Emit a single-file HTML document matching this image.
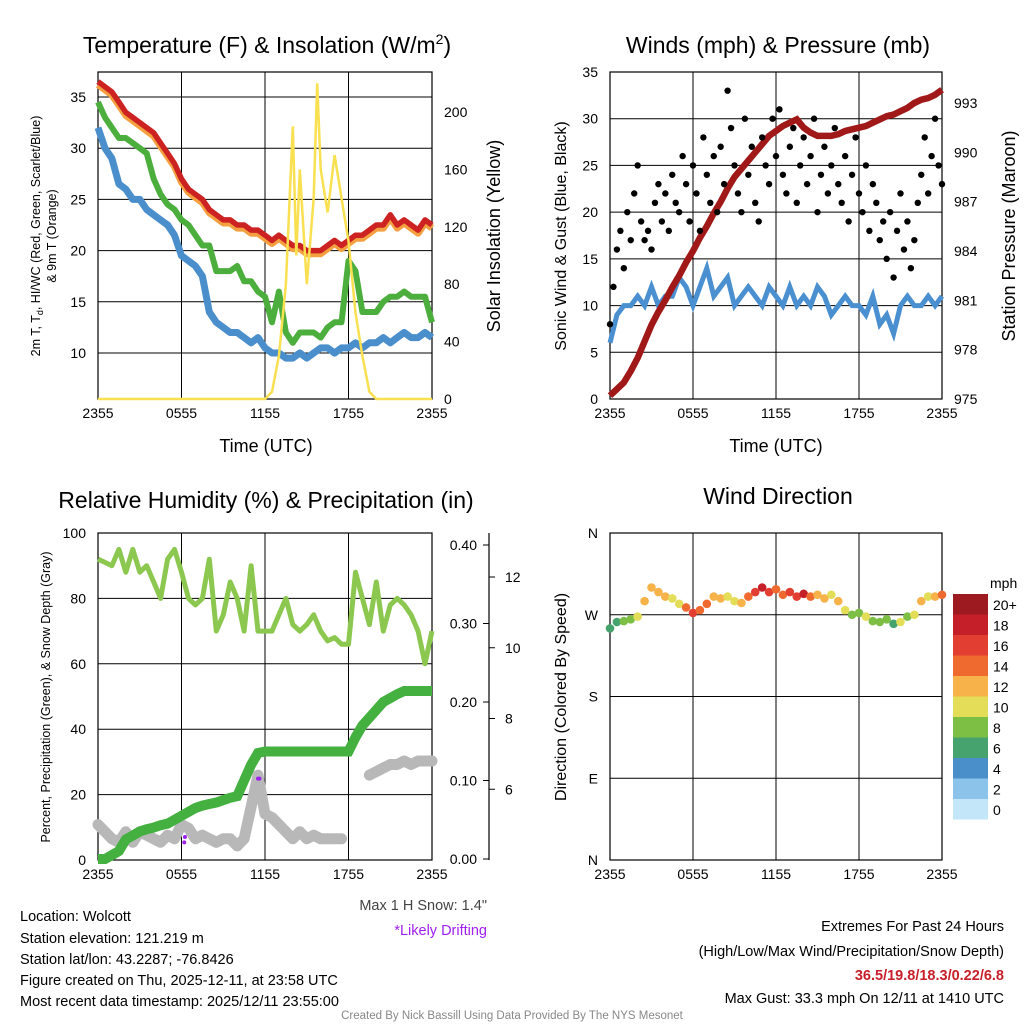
<!DOCTYPE html>
<html><head><meta charset="utf-8"><style>
body{margin:0;background:#fff;}
svg{display:block;font-family:"Liberation Sans",sans-serif;}
</style></head><body>
<svg id="chart" width="1024" height="1024" viewBox="0 0 1024 1024" xmlns="http://www.w3.org/2000/svg">
<rect width="1024" height="1024" fill="#fff"/>
<g id="p1"></g>
<g id="p2"></g>
<g id="p3"></g>
<g id="p4"></g>
<g font-size="23" text-anchor="middle" fill="#000">
<text x="267" y="53">Temperature (F) &amp; Insolation (W/m<tspan font-size="14" dy="-9">2</tspan><tspan dy="9">)</tspan></text>
<text x="778" y="53">Winds (mph) &amp; Pressure (mb)</text>
<text x="266" y="508">Relative Humidity (%) &amp; Precipitation (in)</text>
<text x="778" y="504">Wind Direction</text>
</g>
<g font-size="18" text-anchor="middle">
<text x="266" y="452">Time (UTC)</text>
<text x="776" y="452">Time (UTC)</text>
<text transform="translate(500,236) rotate(-90)">Solar Insolation (Yellow)</text>
<text transform="translate(566,236) rotate(-90)" font-size="16">Sonic Wind &amp; Gust (Blue, Black)</text>
<text transform="translate(1015,236) rotate(-90)">Station Pressure (Maroon)</text>
<text transform="translate(566,697) rotate(-90)" font-size="16">Direction (Colored By Speed)</text>
<text transform="translate(50,697) rotate(-90)" font-size="12.5">Percent, Precipitation (Green), &amp; Snow Depth (Gray)</text>
<text transform="translate(40,236) rotate(-90)" font-size="12.5">2m T, T<tspan font-size="9" dy="3">d</tspan><tspan dy="-3">, HI/WC (Red, Green, Scarlet/Blue)</tspan></text>
<text transform="translate(56,236) rotate(-90)" font-size="12.5">&amp; 9m T (Orange)</text>
</g>
<g font-size="14.5">
<text x="20" y="921">Location: Wolcott</text>
<text x="20" y="943">Station elevation: 121.219 m</text>
<text x="20" y="964">Station lat/lon: 43.2287; -76.8426</text>
<text x="20" y="985">Figure created on Thu, 2025-12-11, at 23:58 UTC</text>
<text x="20" y="1006">Most recent data timestamp: 2025/12/11 23:55:00</text>
<text x="487" y="910" text-anchor="end" fill="#444">Max 1 H Snow: 1.4"</text>
<text x="487" y="935" text-anchor="end" fill="#a020f0">*Likely Drifting</text>
<text x="1004" y="931" text-anchor="end">Extremes For Past 24 Hours</text>
<text x="1004" y="956" text-anchor="end">(High/Low/Max Wind/Precipitation/Snow Depth)</text>
<text x="1004" y="980" text-anchor="end" fill="#c8202a" font-weight="bold">36.5/19.8/18.3/0.22/6.8</text>
<text x="1004" y="1003" text-anchor="end">Max Gust: 33.3 mph On 12/11 at 1410 UTC</text>
<text x="512" y="1019" text-anchor="middle" font-size="11.5" fill="#888">Created By Nick Bassill Using Data Provided By The NYS Mesonet</text>
</g>
</svg>
<script>
const NS="http://www.w3.org/2000/svg";
const xTickLabels=["2355","0555","1155","1755","2355"];
const hours=[0,0.5,1,1.5,2,2.5,3,3.5,4,4.5,5,5.5,6,6.5,7,7.5,8,8.5,9,9.5,10,10.5,11,11.5,12,12.5,13,13.5,14,14.5,15,15.5,16,16.5,17,17.5,18,18.5,19,19.5,20,20.5,21,21.5,22,22.5,23,23.5,24];
const tempRed=[36.5,36,35.5,34.5,33.5,33,32.5,32,31.5,30.5,29.5,28.5,27,26,25.5,25,24,23.5,23,23,22.5,22.5,22,22,21.5,21,21.5,21,20.5,20.5,20,20,20,20.5,21,20.5,21,21.5,21.5,22,22.5,22.5,23.5,22.5,23,22.5,22,23,22.5];
const tempGreen=[34.5,33,32,31,31,30.5,30,29.5,27,25.5,24.5,24,23,22.5,21.5,20.5,20.5,18,18,18,18.5,17,17,16,15.5,13,16,12,11,12,12,12,11.5,12.5,13,13,19,18,14,14,14,15,15.5,15.5,16,15.5,15.5,15.5,13];
const tempBlue=[32,30,29,26.5,26,25,25,24,23.5,23,22.5,21.5,19.5,19,18.5,17.5,14,13,12.5,12,12,11.5,11,11.5,10.5,10,10,9.5,9.5,10,9.5,10,10.5,10.5,10,10.5,10.5,11,10.5,11,11,11.5,11,11.5,12,11.5,11.5,12,11.5];
const solarHours=[0,12,12.5,13,13.5,14,14.25,14.5,15,15.5,15.75,16,16.5,17,17.5,18,18.5,19,19.5,20,24];
const solarVals=[0,0,5,30,80,190,100,160,80,140,220,160,130,170,140,110,60,30,5,0,0];
const sonicWind=[6,9,10,10,11,10,12,10,11,11,13,12,10,12,14,11,12,13,10,11,12,11,10,12,11,10,12,10,11,10,12,11,9,10,11,10,10,9,11,8,9,7,10,11,10,10,11,10,11];
const pressure=[975.2,975.6,976,976.7,977.5,978.5,979.5,980.3,981,981.8,982.5,983.3,984,984.8,985.5,986.3,987,987.8,988.5,989,989.5,990,990.5,991,991.3,991.6,991.8,992,991.5,991.2,991,991,991,991.1,991.3,991.4,991.5,991.6,991.8,992,992.2,992.3,992.5,992.7,993,993.2,993.3,993.5,993.8];
const gusts=[8,12,16,18,14,20,17,22,25,19,17,18,16,21,23,19,22,18,24,21,20,26,23,19,25,22,18,28,24,21,26,20,27,23,33,29,25,22,20,30,24,27,21,19,28,25,23,30,26,31,24,22,27,29,21,25,28,23,26,30,20,24,27,22,25,29,23,21,26,19,24,28,22,20,25,18,23,21,17,19,15,20,13,18,22,16,19,14,17,21,24,28,22,26,30,25,23];
const rh=[92,91,90,95,88,95,88,90,85,80,92,95,88,80,78,80,92,70,75,85,80,70,90,70,70,70,75,80,72,70,72,75,70,67,68,66,66,88,80,72,85,70,78,80,78,75,70,60,70];
const precip=[0,0,0.005,0.01,0.025,0.03,0.035,0.038,0.04,0.043,0.045,0.05,0.055,0.06,0.065,0.068,0.07,0.072,0.075,0.078,0.08,0.1,0.12,0.135,0.137,0.137,0.137,0.137,0.137,0.137,0.137,0.137,0.137,0.137,0.137,0.137,0.137,0.155,0.17,0.18,0.19,0.2,0.205,0.21,0.214,0.214,0.214,0.214,0.214];
const snow=[5.0,4.8,4.6,4.5,4.8,4.5,4.8,4.7,4.6,4.5,4.7,4.6,5.0,4.9,4.6,4.7,4.6,4.5,4.6,4.6,4.4,4.6,5.5,6.4,5.3,5.2,5.0,4.8,4.6,4.8,4.6,4.7,4.6,4.6,4.6,4.6,null,null,null,6.4,6.5,6.6,6.7,6.7,6.8,6.7,6.8,6.8,6.8];
const driftHours=[6.2,6.25,11.5,11.6];
const driftSnow=[4.5,4.65,6.3,6.3];
const dirDeg=[255,262,263,265,268,285,300,295,290,288,282,278,272,275,282,290,288,290,285,283,290,295,300,295,298,292,295,290,293,290,292,288,292,285,275,270,272,268,263,262,265,260,262,268,270,285,290,290,292];
const dirSpeed=[5,6,7,8,10,12,12,11,12,10,10,13,16,14,13,12,12,10,9,12,14,16,17,15,14,13,16,15,18,14,12,11,10,11,9,7,8,9,7,8,7,6,9,8,10,11,10,12,13];
const speedLabels=["0","2","4","6","8","10","12","14","16","18","20+"];
const speedColors=["#c3e6f8","#8cc3ea","#4a8fca","#47a36e","#7dbf45","#e3dd58","#f7b24a","#ef6a2f","#e23e31","#c51f2a","#9c1a20"];

function el(parent,tag,attrs){const e=document.createElementNS(NS,tag);for(const k in attrs)e.setAttribute(k,attrs[k]);parent.appendChild(e);return e;}
function lin(d0,d1,r0,r1){return v=>r0+(v-d0)/(d1-d0)*(r1-r0);}
function pathOf(xs,ys,fx,fy){let d="",pen=false;for(let i=0;i<xs.length;i++){if(ys[i]==null){pen=false;continue;}d+=(pen?"L":"M")+fx(xs[i]).toFixed(1)+","+fy(ys[i]).toFixed(1);pen=true;}return d;}
function frame(g,x0,x1,y0,y1,fx){
  const r=el(g,"rect",{x:x0,y:y0,width:x1-x0,height:y1-y0,fill:"none",stroke:"#000","stroke-width":1.2});
  
  
  for(let i=0;i<5;i++){const x=fx(i*6);
    if(i>0&&i<4){const l=el(g,"line",{x1:x,x2:x,y1:y0,y2:y1,stroke:"#000","stroke-width":1});
    
    }
    const t=el(g,"text",{x:x,y:y1+19,"font-size":14,"text-anchor":"middle"});t.textContent=xTickLabels[i];
    
    }
}
function hgrid(g,x0,x1,ys,labels,fy,side,grid){
  ys.forEach((v,i)=>{const y=fy(v);
    if(grid){const l=el(g,"line",{x1:x0,x2:x1,y1:y,y2:y,stroke:"#000","stroke-width":1});
    
    }
    const t=el(g,"text",{x:side=="l"?x0-12:x1+12,y:y+5,"font-size":14,"text-anchor":side=="l"?"end":"start"});t.textContent=labels[i];
    
    });
}

// Panel 1
(function(){const g=document.getElementById("p1");
const x0=98,x1=432,y0=72,y1=399;
const fx=lin(0,24,x0,x1),fy=lin(10,35,353,97),fs=lin(0,200,399,112);
frame(g,x0,x1,y0,y1,fx);
hgrid(g,x0,x1,[10,15,20,25,30,35],["10","15","20","25","30","35"],fy,"l",true);
hgrid(g,x0,x1,[0,40,80,120,160,200],["0","40","80","120","160","200"],fs,"r",false);
const series=[[tempBlue,"#4a8fcc",7,"temp-blue-line"],[tempGreen,"#4cae3c",6,"dewpoint-line"],[tempRed.map(v=>v-0.3),"#f5a040",7,"temp-9m-line"],[tempRed,"#cc2222",5.5,"temp-2m-line"]];
series.forEach(s=>{const p=el(g,"path",{d:pathOf(hours,s[0],fx,fy),fill:"none",stroke:s[1],"stroke-width":s[2],"stroke-linejoin":"round"});

});
const sp=el(g,"path",{d:pathOf(solarHours,solarVals,fx,fs),fill:"none",stroke:"#f8e050","stroke-width":2.5});


})();

// Panel 2
(function(){const g=document.getElementById("p2");
const x0=610,x1=942,y0=72,y1=399;
const fx=lin(0,24,x0,x1),fy=lin(0,35,399,72),fp=lin(975,993,399,103);
frame(g,x0,x1,y0,y1,fx);
hgrid(g,x0,x1,[0,5,10,15,20,25,30,35],["0","5","10","15","20","25","30","35"],fy,"l",true);
hgrid(g,x0,x1,[975,978,981,984,987,990,993],["975","978","981","984","987","990","993"],fp,"r",false);
const w=el(g,"path",{d:pathOf(hours,sonicWind,fx,fy),fill:"none",stroke:"#4a90d0","stroke-width":5});


const p=el(g,"path",{d:pathOf(hours,pressure,fx,fp),fill:"none",stroke:"#a01818","stroke-width":6.5});


gusts.forEach((v,i)=>{const c=el(g,"circle",{cx:fx(i/(gusts.length-1)*24),cy:fy(v),r:3.2,fill:"#000"});

});
})();

// Panel 3
(function(){const g=document.getElementById("p3");
const x0=98,x1=432,y0=533,y1=860;
const fx=lin(0,24,x0,x1),fy=lin(0,100,860,533),fpr=lin(0,0.4,859,545),fsn=lin(4,12,860,577);
frame(g,x0,x1,y0,y1,fx);
hgrid(g,x0,x1,[0,20,40,60,80,100],["0","20","40","60","80","100"],fy,"l",false);
[20,40,60,80].forEach(v=>{const l=el(g,"line",{x1:x0,x2:x1,y1:fy(v),y2:fy(v),stroke:"#000"});

});
const ax=el(g,"line",{x1:489,x2:489,y1:533,y2:860,stroke:"#000","stroke-width":1.2});


[0,0.1,0.2,0.3,0.4].forEach(v=>{const t=el(g,"text",{x:477,y:fpr(v)+5,"font-size":14,"text-anchor":"end"});t.textContent=v.toFixed(2);


el(g,"line",{x1:483,x2:489,y1:fpr(v),y2:fpr(v),stroke:"#000"});});
[6,8,10,12].forEach(v=>{const t=el(g,"text",{x:505,y:fsn(v)+5,"font-size":14});t.textContent=String(v);


el(g,"line",{x1:489,x2:495,y1:fsn(v),y2:fsn(v),stroke:"#000"});});
const s=el(g,"path",{d:pathOf(hours,snow,fx,fsn),fill:"none",stroke:"#b8b8b8","stroke-width":11,"stroke-linejoin":"round","stroke-linecap":"round"});


const pr=el(g,"path",{d:pathOf(hours,precip,fx,fpr),fill:"none",stroke:"#44b040","stroke-width":10});


const r=el(g,"path",{d:pathOf(hours,rh,fx,fy),fill:"none",stroke:"#8cc850","stroke-width":5,"stroke-linejoin":"round"});


driftHours.forEach((h,i)=>{const c=el(g,"circle",{cx:fx(h),cy:fsn(driftSnow[i]),r:2,fill:"#a020f0"});

});
})();

// Panel 4
(function(){const g=document.getElementById("p4");
const x0=610,x1=942,y0=533,y1=860;
const fx=lin(0,24,x0,x1),fy=lin(0,360,860,533);
frame(g,x0,x1,y0,y1,fx);
const dirs=["N","E","S","W","N"];
hgrid(g,x0,x1,[0,90,180,270,360],dirs,fy,"l",false);
[90,180,270].forEach(v=>{const l=el(g,"line",{x1:x0,x2:x1,y1:fy(v),y2:fy(v),stroke:"#000"});

});
hours.forEach((h,i)=>{const k=Math.min(10,Math.round(dirSpeed[i]/2));
const c=el(g,"circle",{cx:fx(h),cy:fy(dirDeg[i]),r:4.3,fill:speedColors[k]});

});
const leg=el(g,"g",{});


const t=el(leg,"text",{x:990,y:588,"font-size":14});t.textContent="mph";
speedLabels.forEach((lab,i)=>{const y=799-i*20.5;
const r=el(leg,"rect",{x:953,y:y,width:35,height:20.5,fill:speedColors[i]});


const tt=el(leg,"text",{x:993,y:y+16,"font-size":14});tt.textContent=lab;

});
})();
</script>
</body></html>
